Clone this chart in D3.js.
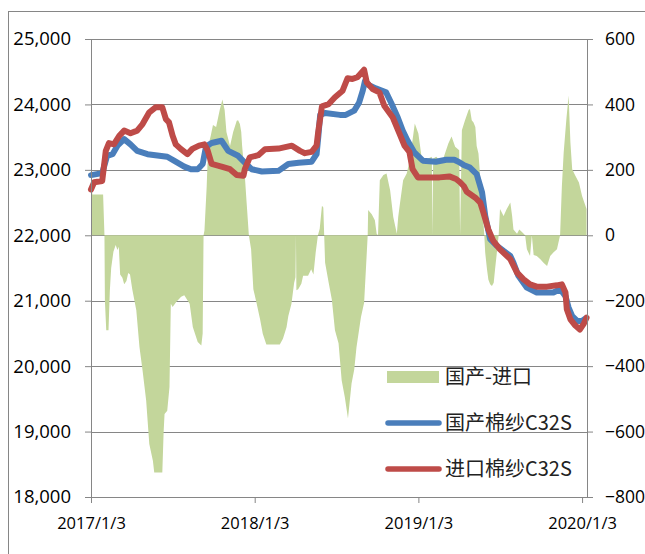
<!DOCTYPE html>
<html>
<head>
<meta charset="utf-8">
<script src="https://cdn.jsdelivr.net/npm/d3@7"></script>
<style>
  body { margin: 0; background: #fff; }
  svg { display: block; }
  .axis text { font-family: "Open Sans", sans-serif; font-size: 18.5px; fill: #000; }
  .axis.x text { font-size: 16.5px; }
  .axis.right text { font-size: 17.5px; }
  .axis path, .axis line { stroke: #868686; }
  .grid line { stroke: #868686; shape-rendering: crispEdges; }
  .legend text { font-family: "Noto Sans CJK SC", sans-serif; font-size: 20px; fill: #222; }
</style>
</head>
<body>
<svg id="chart" width="645" height="554"></svg>
<script>
// 国产-进口 (right axis)
const spread = [
  ["2017-01-03", 170], ["2017-01-06", 125], ["2017-01-30", 125], ["2017-02-02", 0],
  ["2017-02-03", -200], ["2017-02-06", -290], ["2017-02-11", -290], ["2017-02-14", -170],
  ["2017-02-17", -100], ["2017-02-22", -50], ["2017-02-27", -30], ["2017-03-03", -45],
  ["2017-03-06", -35], ["2017-03-09", -120], ["2017-03-14", -130], ["2017-03-18", -150],
  ["2017-03-23", -140], ["2017-03-27", -115], ["2017-03-31", -120], ["2017-04-05", -165],
  ["2017-04-14", -229], ["2017-04-21", -341], ["2017-04-28", -413], ["2017-05-06", -505],
  ["2017-05-13", -638], ["2017-05-21", -689], ["2017-05-24", -725], ["2017-06-11", -725],
  ["2017-06-14", -600], ["2017-06-16", -546], ["2017-06-22", -536], ["2017-06-27", -464],
  ["2017-06-30", -209], ["2017-07-04", -219], ["2017-07-12", -204], ["2017-07-23", -188],
  ["2017-07-30", -183], ["2017-08-11", -209], ["2017-08-18", -280], ["2017-08-29", -326],
  ["2017-09-06", -337], ["2017-09-09", -300], ["2017-09-11", 0], ["2017-09-13", 15],
  ["2017-09-18", 150], ["2017-09-21", 270], ["2017-09-27", 304], ["2017-10-02", 337],
  ["2017-10-09", 331], ["2017-10-17", 383], ["2017-10-23", 415], ["2017-10-28", 383],
  ["2017-11-01", 316], ["2017-11-09", 273], ["2017-11-16", 316], ["2017-11-24", 350],
  ["2017-11-27", 352], ["2017-12-01", 340], ["2017-12-04", 316], ["2017-12-06", 273],
  ["2017-12-12", 182], ["2017-12-16", 100], ["2017-12-21", 0], ["2017-12-26", -43],
  ["2017-12-31", -165], ["2018-01-07", -206], ["2018-01-15", -257], ["2018-01-21", -301],
  ["2018-01-29", -334], ["2018-02-28", -334], ["2018-03-07", -316], ["2018-03-15", -281],
  ["2018-03-19", -247], ["2018-03-26", -209], ["2018-04-01", -145], ["2018-04-04", -128],
  ["2018-04-05", 0], ["2018-04-06", -168], ["2018-04-10", -165], ["2018-04-17", -148],
  ["2018-04-21", -124], ["2018-05-02", -124], ["2018-05-09", -104], ["2018-05-14", -120],
  ["2018-05-19", -53], ["2018-05-24", 0], ["2018-05-28", 20], ["2018-06-02", 90],
  ["2018-06-05", 85], ["2018-06-07", 0], ["2018-06-09", -84], ["2018-06-17", -145],
  ["2018-06-24", -196], ["2018-07-01", -290], ["2018-07-09", -330], ["2018-07-16", -444],
  ["2018-07-23", -495], ["2018-07-30", -560], ["2018-08-07", -453], ["2018-08-13", -410],
  ["2018-08-18", -342], ["2018-08-28", -250], ["2018-09-04", -206], ["2018-09-08", -104],
  ["2018-09-12", 0], ["2018-09-13", 77], ["2018-09-21", 64], ["2018-09-28", 46],
  ["2018-10-02", 5], ["2018-10-05", 0], ["2018-10-09", 168], ["2018-10-17", 184],
  ["2018-10-24", 189], ["2018-11-01", 138], ["2018-11-08", 56], ["2018-11-16", 5],
  ["2018-11-19", 56], ["2018-11-23", 98], ["2018-11-30", 168], ["2018-12-08", 189],
  ["2018-12-15", 230], ["2018-12-23", 311], ["2018-12-26", 342], ["2019-01-03", 311],
  ["2019-01-10", 240], ["2019-01-18", 230], ["2019-02-02", 240], ["2019-02-03", 0],
  ["2019-02-05", 235], ["2019-02-12", 240], ["2019-02-24", 220], ["2019-03-11", 281],
  ["2019-03-18", 302], ["2019-03-26", 271], ["2019-04-04", 260], ["2019-04-06", 0],
  ["2019-04-10", 321], ["2019-04-17", 352], ["2019-04-25", 383], ["2019-04-28", 386],
  ["2019-05-02", 352], ["2019-05-06", 345], ["2019-05-10", 331], ["2019-05-13", 273],
  ["2019-05-17", 250], ["2019-05-25", 100], ["2019-05-30", 0], ["2019-06-01", -53],
  ["2019-06-05", -104], ["2019-06-08", -135], ["2019-06-12", -150], ["2019-06-16", -155],
  ["2019-06-20", -145], ["2019-06-23", -104], ["2019-06-27", -53], ["2019-07-01", 0],
  ["2019-07-04", 80], ["2019-07-12", 59], ["2019-07-19", 80], ["2019-07-27", 100],
  ["2019-07-31", 60], ["2019-08-03", 18], ["2019-08-11", 5], ["2019-08-16", 18],
  ["2019-08-22", 10], ["2019-08-29", 0], ["2019-09-02", -43], ["2019-09-09", -63],
  ["2019-09-13", 0], ["2019-09-17", -60], ["2019-09-24", -63], ["2019-10-02", -73],
  ["2019-10-09", -84], ["2019-10-17", -94], ["2019-10-24", -63], ["2019-10-31", -53],
  ["2019-11-08", -43], ["2019-11-15", 0], ["2019-11-19", 151], ["2019-11-23", 253],
  ["2019-11-29", 355], ["2019-12-04", 427], ["2019-12-08", 284], ["2019-12-12", 202],
  ["2019-12-19", 182], ["2019-12-27", 161], ["2020-01-03", 120], ["2020-01-08", 100],
  ["2020-01-13", 80]
];

// 国产棉纱C32S (left axis)
const domestic = [
  ["2017-01-03", 22920], ["2017-01-28", 22950], ["2017-02-08", 23215], ["2017-02-20", 23240],
  ["2017-03-03", 23370], ["2017-03-18", 23470], ["2017-04-01", 23390], ["2017-04-16", 23290],
  ["2017-05-09", 23240], ["2017-05-31", 23220], ["2017-06-22", 23200], ["2017-07-07", 23140],
  ["2017-07-30", 23050], ["2017-08-14", 23010], ["2017-08-29", 23010], ["2017-09-09", 23090],
  ["2017-09-16", 23340], ["2017-09-24", 23390], ["2017-09-29", 23410], ["2017-10-21", 23445],
  ["2017-11-05", 23290], ["2017-11-27", 23215], ["2017-12-12", 23110], ["2017-12-27", 23010],
  ["2018-01-19", 22975], ["2018-02-25", 22985], ["2018-03-19", 23090], ["2018-04-11", 23110],
  ["2018-05-10", 23125], ["2018-05-21", 23240], ["2018-05-25", 23520], ["2018-05-29", 23840],
  ["2018-06-09", 23870], ["2018-07-12", 23840], ["2018-07-25", 23840], ["2018-08-13", 23905],
  ["2018-08-24", 24030], ["2018-09-01", 24210], ["2018-09-06", 24360], ["2018-09-15", 24295],
  ["2018-09-30", 24245], ["2018-10-23", 24185], ["2018-11-03", 24030], ["2018-11-18", 23800],
  ["2018-11-29", 23600], ["2018-12-10", 23445], ["2018-12-25", 23265], ["2019-01-13", 23140],
  ["2019-02-11", 23125], ["2019-03-06", 23155], ["2019-03-24", 23155], ["2019-04-06", 23110],
  ["2019-04-15", 23070], ["2019-04-28", 23035], ["2019-05-13", 22935], ["2019-05-25", 22655],
  ["2019-06-01", 22300], ["2019-06-12", 21940], ["2019-06-27", 21840], ["2019-07-12", 21760],
  ["2019-07-27", 21685], ["2019-08-03", 21580], ["2019-08-14", 21380], ["2019-09-02", 21200],
  ["2019-09-24", 21125], ["2019-10-31", 21125], ["2019-11-15", 21175], ["2019-11-27", 21070],
  ["2019-12-04", 20895], ["2019-12-12", 20765], ["2019-12-23", 20690], ["2020-01-03", 20690],
  ["2020-01-10", 20725]
];

// 进口棉纱C32S (left axis)
const imported = [
  ["2017-01-03", 22700], ["2017-01-10", 22810], ["2017-01-28", 22830], ["2017-02-05", 23290],
  ["2017-02-12", 23410], ["2017-02-23", 23390], ["2017-03-07", 23520], ["2017-03-18", 23600],
  ["2017-04-01", 23560], ["2017-04-16", 23600], ["2017-04-28", 23700], ["2017-05-13", 23880],
  ["2017-05-27", 23955], ["2017-06-11", 23955], ["2017-06-19", 23775], ["2017-06-26", 23725],
  ["2017-07-04", 23520], ["2017-07-11", 23390], ["2017-07-22", 23320], ["2017-08-06", 23240],
  ["2017-08-17", 23320], ["2017-09-01", 23370], ["2017-09-13", 23390], ["2017-09-20", 23300],
  ["2017-09-29", 23090], ["2017-10-21", 23050], ["2017-11-09", 23010], ["2017-11-24", 22920],
  ["2017-12-09", 22910], ["2017-12-12", 23010], ["2017-12-23", 23190], ["2018-01-11", 23225],
  ["2018-01-26", 23315], ["2018-02-25", 23325], ["2018-03-27", 23370], ["2018-04-14", 23290],
  ["2018-04-25", 23255], ["2018-05-10", 23275], ["2018-05-21", 23370], ["2018-05-25", 23600],
  ["2018-06-02", 23970], ["2018-06-17", 24005], ["2018-07-01", 24110], ["2018-07-18", 24210],
  ["2018-07-29", 24400], ["2018-08-09", 24390], ["2018-08-20", 24415], ["2018-09-04", 24530],
  ["2018-09-10", 24335], ["2018-09-23", 24235], ["2018-10-08", 24185], ["2018-10-19", 23980],
  ["2018-11-07", 23800], ["2018-11-21", 23570], ["2018-12-03", 23370], ["2018-12-14", 23275],
  ["2018-12-21", 23010], ["2019-01-02", 22885], ["2019-01-20", 22885], ["2019-02-19", 22885],
  ["2019-03-13", 22900], ["2019-03-28", 22860], ["2019-04-06", 22810], ["2019-04-15", 22745],
  ["2019-04-21", 22665], ["2019-05-10", 22575], ["2019-05-21", 22500], ["2019-05-28", 22345],
  ["2019-06-08", 22090], ["2019-06-19", 21915], ["2019-07-04", 21785], ["2019-07-27", 21635],
  ["2019-08-11", 21430], ["2019-08-25", 21330], ["2019-09-09", 21250], ["2019-09-24", 21215],
  ["2019-10-17", 21215], ["2019-11-08", 21235], ["2019-11-19", 21250], ["2019-11-27", 21125],
  ["2019-11-30", 20870], ["2019-12-08", 20715], ["2019-12-19", 20620], ["2019-12-29", 20560],
  ["2020-01-07", 20650], ["2020-01-13", 20740]
];

const leftTicks = [18000, 19000, 20000, 21000, 22000, 23000, 24000, 25000];
const rightTicks = [-800, -600, -400, -200, 0, 200, 400, 600];
const xTicks = ["2017-01-03", "2018-01-03", "2019-01-03", "2020-01-03"];
const xStart = "2017-01-03";
const xEnd = "2020-01-14";

const legendItems = [
  { name: "国产-进口", type: "area", color: "#c3d69b" },
  { name: "国产棉纱C32S", type: "line", color: "#4a7ebb" },
  { name: "进口棉纱C32S", type: "line", color: "#be4b48" }
];

const parse = d3.timeParse("%Y-%m-%d");
const toPoints = arr => arr.map(([d, v]) => ({ date: parse(d), value: v }));

const margin = { top: 39, left: 91 };
const width = 496;
const height = 458;

const svg = d3.select("#chart");

// outer chart frame
svg.append("rect")
  .attr("x", 8.5).attr("y", 11.5)
  .attr("width", 700).attr("height", 600)
  .attr("fill", "none")
  .attr("stroke", "#868686");

const g = svg.append("g")
  .attr("transform", `translate(${margin.left},${margin.top})`);

const x = d3.scaleTime()
  .domain([parse(xStart), parse(xEnd)])
  .range([0, width]);

const yLeft = d3.scaleLinear()
  .domain([18000, 25000])
  .range([height, 0]);

const yRight = d3.scaleLinear()
  .domain([-800, 600])
  .range([height, 0]);

// gridlines
g.append("g")
  .attr("class", "grid")
  .selectAll("line")
  .data(leftTicks.slice(1))
  .enter().append("line")
  .attr("x1", 0).attr("x2", width)
  .attr("y1", d => yLeft(d) + 0.5).attr("y2", d => yLeft(d) + 0.5);

// spread area on the right axis
const area = d3.area()
  .x(d => x(d.date))
  .y0(yRight(0))
  .y1(d => yRight(d.value));

g.append("path")
  .datum(toPoints(spread))
  .attr("fill", "#c3d69b")
  .attr("d", area);

const line = d3.line()
  .x(d => x(d.date))
  .y(d => yLeft(d.value));

[[domestic, "#4a7ebb"], [imported, "#be4b48"]].forEach(([series, color]) => {
  g.append("path")
    .datum(toPoints(series))
    .attr("fill", "none")
    .attr("stroke", color)
    .attr("stroke-width", 6)
    .attr("stroke-linejoin", "round")
    .attr("stroke-linecap", "round")
    .attr("d", line);
});

// axes
g.append("g")
  .attr("class", "axis")
  .call(d3.axisLeft(yLeft)
    .tickValues(leftTicks)
    .tickSize(6)
    .tickSizeOuter(0)
    .tickPadding(14)
    .tickFormat(d3.format(",")));

g.append("g")
  .attr("class", "axis right")
  .attr("transform", `translate(${width},0)`)
  .call(d3.axisRight(yRight)
    .tickValues(rightTicks)
    .tickSize(6)
    .tickSizeOuter(0)
    .tickPadding(12));

const fmtDate = d => `${d.getFullYear()}/${d.getMonth() + 1}/${d.getDate()}`;

g.append("g")
  .attr("class", "axis x")
  .attr("transform", `translate(0,${height})`)
  .call(d3.axisBottom(x)
    .tickValues(xTicks.map(parse))
    .tickSize(6)
    .tickSizeOuter(0)
    .tickPadding(14)
    .tickFormat(fmtDate));

// legend
const legend = svg.append("g")
  .attr("class", "legend")
  .attr("transform", "translate(387,377)");

const item = legend.selectAll("g")
  .data(legendItems)
  .enter().append("g")
  .attr("transform", (d, i) => `translate(0,${i * 46})`);

item.filter(d => d.type === "area").append("rect")
  .attr("x", 0).attr("y", -6)
  .attr("width", 52).attr("height", 12)
  .attr("fill", d => d.color);

item.filter(d => d.type === "line").append("line")
  .attr("x1", 1).attr("x2", 52)
  .attr("y1", 0).attr("y2", 0)
  .attr("stroke", d => d.color)
  .attr("stroke-width", 5.5)
  .attr("stroke-linecap", "round");

item.append("text")
  .attr("x", 58)
  .attr("dy", "0.36em")
  .text(d => d.name);
</script>
</body>
</html>
